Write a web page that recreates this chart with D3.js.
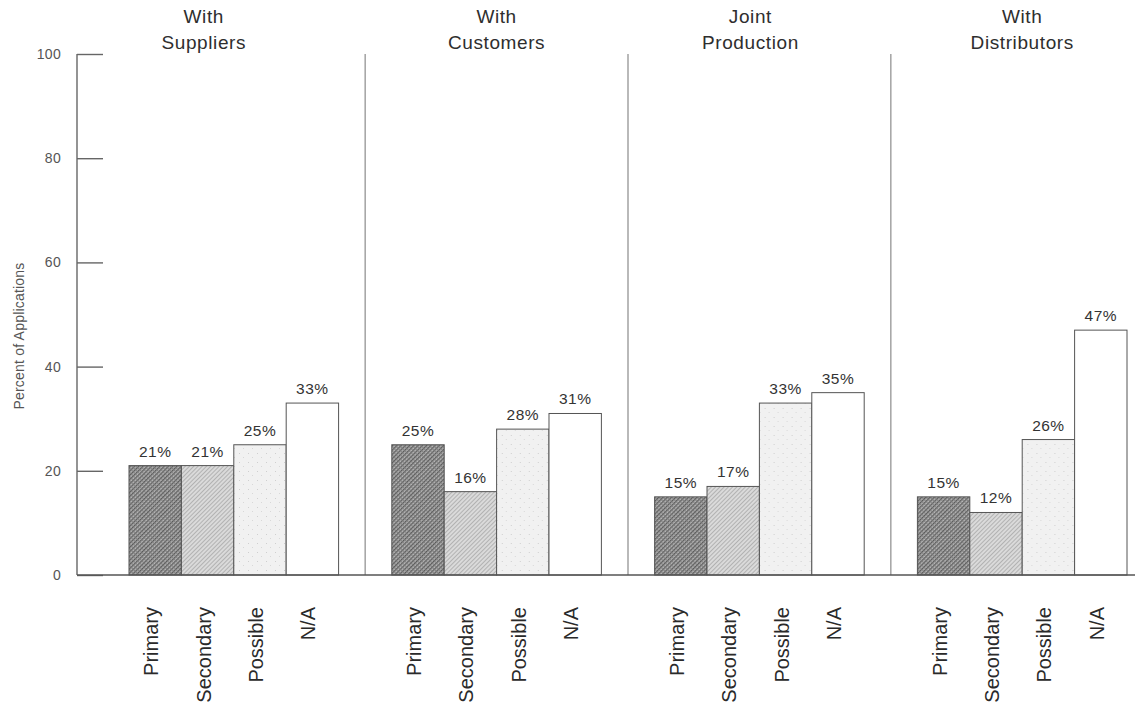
<!DOCTYPE html>
<html>
<head>
<meta charset="utf-8">
<script src="https://cdn.jsdelivr.net/npm/d3@7"></script>
<style>
  html, body { margin: 0; padding: 0; background: #fff; }
  svg { display: block; font-family: "Liberation Sans", Arial, Helvetica, sans-serif; }
</style>
</head>
<body>
<svg id="chart" width="1141" height="704"></svg>
<script>
// Partnership types (panels) and application categories (bars)
const groups = ["With Suppliers", "With Customers", "Joint Production", "With Distributors"];
const groupTitleLines = [["With", "Suppliers"], ["With", "Customers"], ["Joint", "Production"], ["With", "Distributors"]];
const categories = ["Primary", "Secondary", "Possible", "N/A"];

// Percent of applications per category, one array per panel
const suppliersValues    = [21, 21, 25, 33];
const customersValues    = [25, 16, 28, 31];
const jointProdValues    = [15, 17, 33, 35];
const distributorsValues = [15, 12, 26, 47];
const seriesValues = [suppliersValues, customersValues, jointProdValues, distributorsValues];

const yTicks = [0, 20, 40, 60, 80, 100];
const yTitle = "Percent of Applications";

// Layout
const W = 1141, H = 704;
const axisX = 77, baseY = 575, topY = 54;
const plotLeft = 129, plotRight = 1127, baseRight = 1135;
const titleShift = [-30, 0, -9, 0];

const svg = d3.select("#chart");

const y = d3.scaleLinear().domain([0, 100]).range([baseY, topY]);
const x0 = d3.scaleBand().domain(groups).range([plotLeft, plotRight]).paddingInner(0.2025).paddingOuter(0);
const x1 = d3.scaleBand().domain(categories).range([0, x0.bandwidth()]).padding(0);

// Fill patterns for the four categories
const defs = svg.append("defs");

const pPrimary = defs.append("pattern").attr("id", "pat-primary")
  .attr("patternUnits", "userSpaceOnUse").attr("width", 3).attr("height", 3)
  .attr("patternTransform", "rotate(45)");
pPrimary.append("rect").attr("width", 3).attr("height", 3).attr("fill", "#b4b4b4");
pPrimary.append("rect").attr("width", 1.3).attr("height", 3).attr("fill", "#5a5a5a");
pPrimary.append("rect").attr("width", 3).attr("height", 0.8).attr("fill", "#7a7a7a");

const pSecondary = defs.append("pattern").attr("id", "pat-secondary")
  .attr("patternUnits", "userSpaceOnUse").attr("width", 3).attr("height", 3)
  .attr("patternTransform", "rotate(45)");
pSecondary.append("rect").attr("width", 3).attr("height", 3).attr("fill", "#dadada");
pSecondary.append("rect").attr("width", 1).attr("height", 3).attr("fill", "#b2b2b2");

const pPossible = defs.append("pattern").attr("id", "pat-possible")
  .attr("patternUnits", "userSpaceOnUse").attr("width", 9).attr("height", 9);
pPossible.append("rect").attr("width", 9).attr("height", 9).attr("fill", "#f1f1f1");
pPossible.append("rect").attr("x", 2).attr("y", 3).attr("width", 1).attr("height", 1).attr("fill", "#cfcfcf");
pPossible.append("rect").attr("x", 6).attr("y", 7).attr("width", 1).attr("height", 1).attr("fill", "#d8d8d8");

const fills = { "Primary": "url(#pat-primary)", "Secondary": "url(#pat-secondary)", "Possible": "url(#pat-possible)", "N/A": "#ffffff" };

// Panel separators midway between groups
const step = x0.step();
const sepXs = groups.slice(1).map(g => x0(g) - (step - x0.bandwidth()) / 2);
svg.append("g").selectAll("line").data(sepXs).join("line")
  .attr("x1", d => d).attr("x2", d => d)
  .attr("y1", y(100)).attr("y2", baseY)
  .attr("stroke", "#a8a8a8").attr("stroke-width", 1.6);

// Y axis with long inward ticks
const yAxis = d3.axisRight(y).tickValues(yTicks).tickSize(26).tickFormat("");
const gy = svg.append("g").attr("transform", `translate(${axisX},0)`).call(yAxis);
gy.select(".domain").remove();
gy.selectAll(".tick line").attr("stroke", "#666").attr("stroke-width", 1.4);
svg.append("line").attr("x1", axisX).attr("x2", axisX).attr("y1", y(100)).attr("y2", baseY)
  .attr("stroke", "#666").attr("stroke-width", 1.4);

svg.append("g").selectAll("text").data(yTicks).join("text")
  .attr("x", 61).attr("y", d => y(d)).attr("dy", "0.36em")
  .attr("text-anchor", "end").attr("font-size", 14).attr("letter-spacing", 0.3).attr("fill", "#555")
  .text(d => d);

svg.append("text")
  .attr("transform", "translate(24,336) rotate(-90)")
  .attr("text-anchor", "middle").attr("font-size", 14).attr("letter-spacing", 0.2).attr("fill", "#555")
  .text(yTitle);

// Bars
const gGroups = svg.append("g").selectAll("g").data(groups).join("g")
  .attr("transform", d => `translate(${x0(d)},0)`);

gGroups.selectAll("rect").data((g, i) => categories.map((c, j) => ({ c, v: seriesValues[i][j] })))
  .join("rect")
  .attr("x", d => x1(d.c)).attr("y", d => y(d.v))
  .attr("width", x1.bandwidth()).attr("height", d => baseY - y(d.v))
  .attr("fill", d => fills[d.c]).attr("stroke", "#555").attr("stroke-width", 1);

// Value labels above bars
gGroups.selectAll("text.val").data((g, i) => categories.map((c, j) => ({ c, v: seriesValues[i][j] })))
  .join("text").attr("class", "val")
  .attr("x", d => x1(d.c) + x1.bandwidth() / 2).attr("y", d => y(d.v) - 9)
  .attr("text-anchor", "middle").attr("font-size", 15.5).attr("letter-spacing", 0.5).attr("fill", "#333")
  .text(d => d.v + "%");

// Category labels, rotated
gGroups.selectAll("text.cat").data(categories).join("text").attr("class", "cat")
  .attr("transform", d => `translate(${x1(d) + x1.bandwidth() / 2 + 3},607) rotate(-90)`)
  .attr("text-anchor", "end").attr("font-size", 20).attr("fill", "#2a2a2a")
  .text(d => d);

// Baseline
svg.append("line").attr("x1", axisX).attr("x2", baseRight).attr("y1", baseY).attr("y2", baseY)
  .attr("stroke", "#555").attr("stroke-width", 1.6);

// Panel titles
const gTitles = svg.append("g").selectAll("text").data(groups).join("text")
  .attr("x", (d, i) => x0(d) + x0.bandwidth() / 2 + titleShift[i])
  .attr("text-anchor", "middle").attr("font-size", 19).attr("letter-spacing", 0.6).attr("fill", "#2e2e2e");
gTitles.selectAll("tspan").data((d, i) => groupTitleLines[i]).join("tspan")
  .attr("x", function () { return d3.select(this.parentNode).attr("x"); })
  .attr("y", (d, k) => 23 + k * 26)
  .text(d => d);
</script>
</body>
</html>
